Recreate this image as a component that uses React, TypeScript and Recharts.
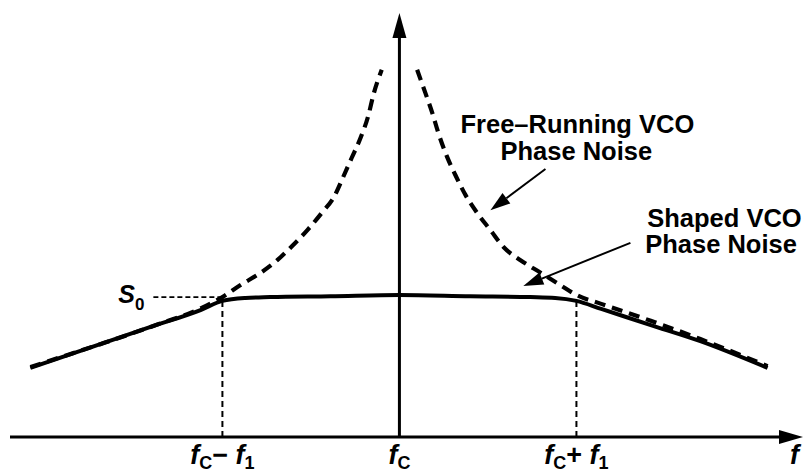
import { LineChart, Line, XAxis, YAxis, ReferenceLine, ReferenceDot } from 'recharts'

const FONT = '"Liberation Sans", Arial, Helvetica, sans-serif'

// x: offset from fC in units of f1, y: noise level (0 = f axis)
const shapedX = [-2.085, -1.69, -1.41, -1.12, -1.0, -0.87, -0.73, -0.39, 0, 0.4, 0.74, 0.88, 1.0, 1.14, 1.42, 1.7, 2.08]
const shapedY = [16.3, 21.9, 25.9, 30.0, 32.1, 32.8, 33.0, 33.2, 33.5, 33.2, 33.0, 32.8, 32.1, 30.2, 26.4, 22.6, 16.3]

const freeLeftX = [-2.085, -1.69, -1.41, -1.12, -1.0, -0.9, -0.785, -0.69, -0.6, -0.52, -0.44, -0.37, -0.32, -0.27, -0.22, -0.175, -0.147, -0.1]
const freeLeftY = [16.5, 21.9, 25.9, 30.4, 33.0, 35.8, 38.7, 41.7, 45.3, 48.8, 52.8, 56.6, 61.1, 65.8, 70.5, 75.9, 80.7, 86.6]

const freeRightX = [0.1, 0.147, 0.186, 0.22, 0.27, 0.316, 0.373, 0.44, 0.514, 0.588, 0.684, 0.8, 0.91, 1.0, 1.14, 1.42, 1.7, 2.08]
const freeRightY = [86.6, 81.1, 76.4, 71.7, 66.0, 61.8, 57.1, 52.8, 48.8, 44.8, 41.7, 38.7, 35.8, 33.5, 31.4, 27.4, 23.1, 16.7]

const S0 = 33
const s0LineStart = -1.39
const xTicks = [-1, 0, 1]
const xTickOps = ['−', '', '+']
const xMax = 2.28

const freeText = ['Free–Running VCO', 'Phase Noise']
const shapedText = ['Shaped VCO', 'Phase Noise']

const toRows = (xs: number[], ys: number[]) => xs.map((x, i) => ({ x, y: ys[i] }))
const shaped = toRows(shapedX, shapedY)
const freeLeft = toRows(freeLeftX, freeLeftY)
const freeRight = toRows(freeRightX, freeRightY)

const arrow = (len: number, half: number, width: number) => (p: any) => {
  const { x1, y1, x2, y2 } = p
  const a = Math.atan2(y2 - y1, x2 - x1)
  const bx = x2 - len * Math.cos(a)
  const by = y2 - len * Math.sin(a)
  const nx = -Math.sin(a) * half
  const ny = Math.cos(a) * half
  return (
    <g>
      <line x1={x1} y1={y1} x2={bx} y2={by} stroke="#000" strokeWidth={width} />
      <polygon points={`${x2},${y2} ${bx + nx},${by + ny} ${bx - nx},${by - ny}`} fill="#000" />
    </g>
  )
}

const freqLabel = (op: string) => (p: any) => (
  <text x={p.cx} y={p.cy + 27} textAnchor="middle" fontFamily={FONT} fontWeight="bold" fontSize={27} fill="#000">
    <tspan fontStyle="italic">f</tspan>
    <tspan fontSize={18} dy={5}>C</tspan>
    {op && (
      <>
        <tspan dy={-5}>{op}</tspan>
        <tspan fontStyle="italic"> f</tspan>
        <tspan fontSize={18} dy={5}>1</tspan>
      </>
    )}
  </text>
)

export default function App() {
  return (
    <div style={{ position: 'absolute', left: 0, top: 0, width: 805, height: 472, background: '#fff' }}>
      <LineChart width={805} height={472} margin={{ top: 13, right: 2, bottom: 35, left: 10 }}>
        <XAxis type="number" dataKey="x" domain={[-2.2, xMax]} allowDataOverflow hide />
        <YAxis type="number" dataKey="y" domain={[0, 100]} allowDataOverflow hide />

        {/* axes with arrowheads */}
        <ReferenceLine segment={[{ x: -2.2, y: 0 }, { x: xMax, y: 0 }]} ifOverflow="visible" shape={arrow(24, 7, 3)} />
        <ReferenceLine segment={[{ x: 0, y: 0 }, { x: 0, y: 100 }]} ifOverflow="visible" shape={arrow(25, 7, 3)} />

        {/* fc ± f1 guides and S0 level */}
        {[-1, 1].map((v) => (
          <ReferenceLine key={v} segment={[{ x: v, y: 0 }, { x: v, y: S0 }]} stroke="#000" strokeWidth={2} strokeDasharray="6 4" ifOverflow="visible" />
        ))}
        <ReferenceLine segment={[{ x: s0LineStart, y: S0 }, { x: -1, y: S0 }]} stroke="#000" strokeWidth={1.6} strokeDasharray="5 3" ifOverflow="visible" />

        <Line data={freeLeft} dataKey="y" type="monotone" stroke="#000" strokeWidth={4.2} strokeDasharray="11 7" dot={false} isAnimationActive={false} />
        <Line data={freeRight} dataKey="y" type="monotone" stroke="#000" strokeWidth={4.2} strokeDasharray="11 7" dot={false} isAnimationActive={false} />
        <Line data={shaped} dataKey="y" type="monotone" stroke="#000" strokeWidth={4} dot={false} isAnimationActive={false} />

        {/* annotation arrows */}
        <ReferenceLine segment={[{ x: 0.825, y: 63.2 }, { x: 0.514, y: 53.5 }]} ifOverflow="visible" shape={arrow(20, 6.5, 2)} />
        <ReferenceLine segment={[{ x: 1.305, y: 45.8 }, { x: 0.7, y: 35.6 }]} ifOverflow="visible" shape={arrow(20, 6.5, 2)} />

        {/* annotation texts */}
        <ReferenceDot x={0.345} y={71.7} ifOverflow="visible" shape={(p: any) => (
          <text x={p.cx} y={p.cy} fontFamily={FONT} fontWeight="bold" fontSize={25.5} fill="#000">
            <tspan x={p.cx}>{freeText[0]}</tspan>
            <tspan x={p.cx + 40} dy={27}>{freeText[1]}</tspan>
          </text>
        )} />
        <ReferenceDot x={1.4} y={49.5} ifOverflow="visible" shape={(p: any) => (
          <text x={p.cx} y={p.cy} fontFamily={FONT} fontWeight="bold" fontSize={25.5} fill="#000">
            <tspan x={p.cx}>{shapedText[0]}</tspan>
            <tspan x={p.cx - 2} dy={26}>{shapedText[1]}</tspan>
          </text>
        )} />

        {/* S0 label */}
        <ReferenceDot x={s0LineStart} y={S0} ifOverflow="visible" shape={(p: any) => (
          <text x={p.cx - 9} y={p.cy + 6} textAnchor="end" fontFamily={FONT} fontWeight="bold" fontSize={25} fill="#000">
            <tspan fontStyle="italic">S</tspan>
            <tspan fontSize={17} dy={7}>0</tspan>
          </text>
        )} />

        {/* frequency labels */}
        {xTicks.map((t, i) => (
          <ReferenceDot key={t} x={t} y={0} ifOverflow="visible" shape={freqLabel(xTickOps[i])} />
        ))}
        <ReferenceDot x={xMax} y={0} ifOverflow="visible" shape={(p: any) => (
          <text x={p.cx - 4} y={p.cy + 27} textAnchor="end" fontFamily={FONT} fontWeight="bold" fontStyle="italic" fontSize={27} fill="#000">f</text>
        )} />
      </LineChart>
    </div>
  )
}
